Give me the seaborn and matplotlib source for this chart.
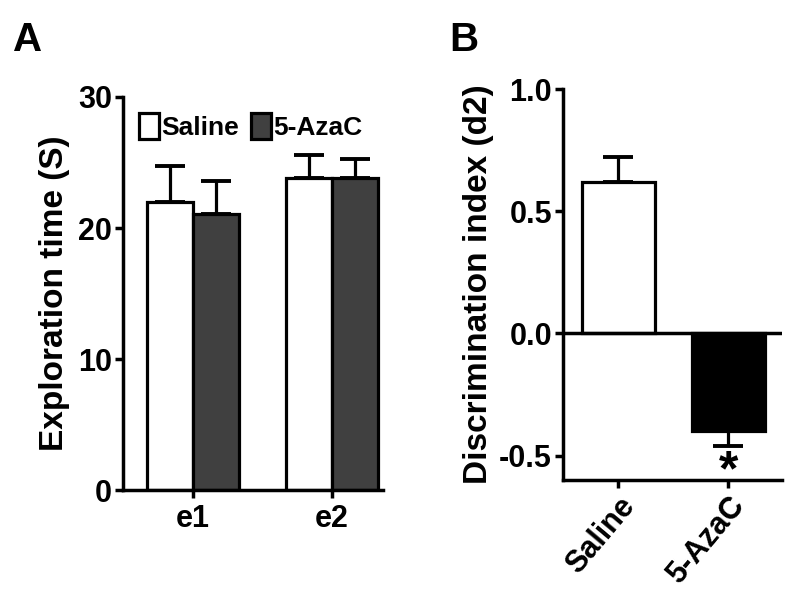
import matplotlib
matplotlib.use("Agg")
import matplotlib.pyplot as plt
import pandas as pd
import seaborn as sns

EPOCHS = ["e1", "e2"]
GROUPS = ["Saline", "5-AzaC"]
EXPLORE_MEAN = {"Saline": [22.0, 23.8], "5-AzaC": [21.1, 23.8]}
EXPLORE_SEM = {"Saline": [2.7, 1.8], "5-AzaC": [2.5, 1.5]}
D2_MEAN = [0.62, -0.40]
D2_SEM = [0.10, 0.06]
A_PALETTE = {"Saline": "white", "5-AzaC": "#404040"}
B_PALETTE = {"Saline": "white", "5-AzaC": "black"}

EDGE_LW = 2.3
SPINE_LW = 2.5
TICK_SIZE = 22
LABEL_SIZE = 24

sns.set_theme(style="ticks")
plt.rcParams["font.family"] = ["Liberation Sans", "DejaVu Sans"]
plt.rcParams["font.weight"] = "bold"
for key in ("text.color", "axes.labelcolor", "xtick.color", "ytick.color"):
    plt.rcParams[key] = "black"

explore = pd.DataFrame(
    [(e, g, EXPLORE_MEAN[g][i]) for g in GROUPS for i, e in enumerate(EPOCHS)],
    columns=["epoch", "group", "time"],
)
d2 = pd.DataFrame({"group": GROUPS, "d2": D2_MEAN})

fig = plt.figure(figsize=(8.0, 6.06), dpi=100)
ax_a = fig.add_axes([0.154, 0.191, 0.325, 0.649])
ax_b = fig.add_axes([0.704, 0.208, 0.274, 0.645])

# panel A
sns.barplot(
    data=explore, x="epoch", y="time", hue="group", order=EPOCHS, hue_order=GROUPS,
    palette=A_PALETTE, edgecolor="black", linewidth=EDGE_LW, width=0.66,
    errorbar=None, ax=ax_a,
)
for cont, g in zip(ax_a.containers, GROUPS):
    xs = [p.get_x() + p.get_width() / 2 for p in cont]
    ax_a.errorbar(
        xs, EXPLORE_MEAN[g], yerr=[[0] * len(xs), EXPLORE_SEM[g]], fmt="none",
        ecolor="black", elinewidth=EDGE_LW, capsize=11, capthick=EDGE_LW + 0.5, zorder=1,
    )
ax_a.set_ylim(0, 30)
ax_a.set_xlim(-0.5, 1.37)
ax_a.set_yticks([0, 10, 20, 30])
ax_a.set_xlabel("")
ax_a.set_ylabel("Exploration time (S)", fontsize=LABEL_SIZE, fontweight="bold", labelpad=6)
ax_a.legend(
    ncol=2, frameon=False, loc="upper left", bbox_to_anchor=(0.0, 1.0),
    handlelength=0.75, handleheight=1.15, handletextpad=0.1,
    columnspacing=0.45, borderaxespad=0.2,
    prop={"weight": "bold", "size": 19},
)
sns.despine(ax=ax_a)

# panel B
sns.barplot(
    data=d2, x="group", y="d2", hue="group", order=GROUPS, palette=B_PALETTE,
    edgecolor="black", linewidth=EDGE_LW, width=0.66, errorbar=None,
    legend=False, ax=ax_b,
)
err_lo = [0 if m > 0 else s for m, s in zip(D2_MEAN, D2_SEM)]
err_hi = [s if m > 0 else 0 for m, s in zip(D2_MEAN, D2_SEM)]
ax_b.errorbar(
    range(len(GROUPS)), D2_MEAN, yerr=[err_lo, err_hi], fmt="none",
    ecolor="black", elinewidth=EDGE_LW, capsize=11, capthick=EDGE_LW + 0.5, zorder=1,
)
ax_b.axhline(0, color="black", lw=SPINE_LW, zorder=3)
ax_b.text(1, D2_MEAN[1] - D2_SEM[1] - 0.015, "*", ha="center", va="top",
          fontsize=36, fontweight="bold")
ax_b.set_ylim(-0.6, 1.0)
ax_b.set_xlim(-0.5, 1.49)
ax_b.set_yticks([-0.5, 0.0, 0.5, 1.0])
ax_b.set_yticklabels(["-0.5", "0.0", "0.5", "1.0"])
ax_b.set_xlabel("")
ax_b.set_ylabel("Discrimination index (d2)", fontsize=LABEL_SIZE, fontweight="bold", labelpad=4)
ax_b.tick_params(axis="x", labelrotation=50)
for lab in ax_b.get_xticklabels():
    lab.set_ha("right")
    lab.set_rotation_mode("anchor")
sns.despine(ax=ax_b)

for ax in (ax_a, ax_b):
    for side in ("left", "bottom"):
        ax.spines[side].set_linewidth(SPINE_LW)
        ax.spines[side].set_color("black")
    ax.tick_params(axis="both", width=SPINE_LW, length=6, color="black",
                   labelcolor="black", labelsize=TICK_SIZE, pad=2)
    for lab in ax.get_xticklabels() + ax.get_yticklabels():
        lab.set_fontweight("bold")
ax_a.tick_params(axis="x", pad=4)

fig.text(0.016, 0.965, "A", fontsize=29, fontweight="bold", va="top")
fig.text(0.562, 0.965, "B", fontsize=29, fontweight="bold", va="top")

fig.savefig("out.png", dpi=100, facecolor="white")
